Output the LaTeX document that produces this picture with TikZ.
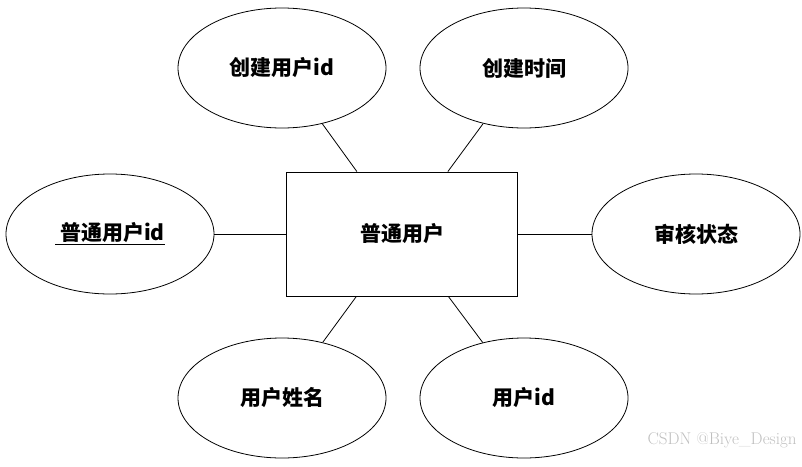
\documentclass[tikz,border=0pt]{standalone}
\usepackage{fontspec}
\usetikzlibrary{shapes.geometric}
\newfontfamily\cjk{Noto Sans CJK SC}
\tikzset{
  attr/.style={draw,thick,ellipse,minimum width=208pt,minimum height=120pt,inner sep=0pt,font=\cjk\bfseries\fontsize{21}{24}\selectfont},
  entity/.style={draw,thick,rectangle,minimum width=231pt,minimum height=124pt,inner sep=0pt,font=\cjk\bfseries\fontsize{21}{24}\selectfont},
  link/.style={thick}
}
\begin{document}
\begin{tikzpicture}[x=1pt,y=-1pt]
        \useasboundingbox (0,0) rectangle (802,466);

        % entity
        \node[entity] (user) at (402,234) {普通用户};

        % attributes
        \node[attr] (creator) at (282,68) {创建用户id};
        \node[attr] (ctime) at (524,68) {创建时间};
        \node[attr] (uid) at (110,234) {\underline{\ 普通用户id}};
        \node[attr] (status) at (696,234) {审核状态};
        \node[attr] (uname) at (282,398) {用户姓名};
        \node[attr] (userid) at (524,398) {用户id};

        % links
        \foreach \a in {creator,ctime,uid,status,uname,userid}
            \draw[link] (user) -- (\a);

        % watermark
        \node[text=black!25,font=\fontsize{17}{20}\selectfont,anchor=east] (mark) at (800,440) {CSDN @Biye\_Design};
    \end{tikzpicture}
\end{document}
